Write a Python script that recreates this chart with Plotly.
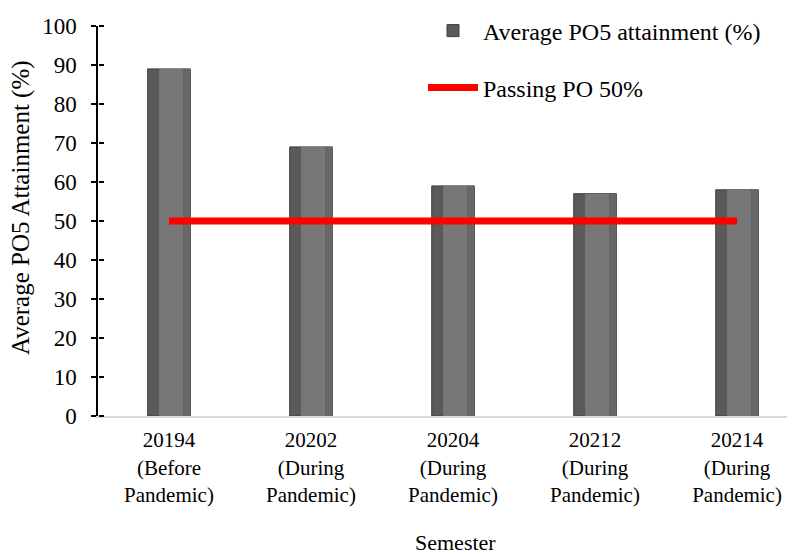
import plotly.graph_objects as go

categories = ["20194<br>(Before<br>Pandemic)", "20202<br>(During<br>Pandemic)",
              "20204<br>(During<br>Pandemic)", "20212<br>(During<br>Pandemic)",
              "20214<br>(During<br>Pandemic)"]
attainment = [89, 69, 59, 57, 58]
passing = [50, 50, 50, 50, 50]
yticks = [0, 10, 20, 30, 40, 50, 60, 70, 80, 90, 100]

FONT = "Liberation Serif, Times New Roman, serif"
xs = list(range(len(categories)))

# page has an 8px body margin; figure is sized to fit the 795x554 window
W, H = 787, 546
OFF = 8

fig = go.Figure()
fig.add_trace(go.Bar(
    x=xs, y=attainment, width=0.3, name="Average PO5 attainment (%)",
    marker=dict(color="#5a5a5a", line=dict(color="#3c3c3c", width=1)),
    legend="legend"))
fig.add_trace(go.Bar(
    x=xs, y=attainment, width=0.17, offset=-0.07, showlegend=False,
    marker=dict(color="#777777", line=dict(width=0)), hoverinfo="skip"))
fig.add_trace(go.Bar(
    x=xs, y=attainment, width=0.05, offset=0.1, showlegend=False,
    marker=dict(color="#676767", line=dict(width=0)), hoverinfo="skip"))
fig.add_trace(go.Scatter(
    x=xs, y=passing, mode="lines", name="Passing PO 50%",
    line=dict(color="#ff0000", width=7), legend="legend2"))
# invisible trace so the second y axis (inner half of the crossing ticks) is drawn
fig.add_trace(go.Scatter(x=xs, y=passing, yaxis="y2", mode="markers",
                         marker=dict(opacity=0), showlegend=False, hoverinfo="skip"))

fig.update_layout(
    width=W, height=H, barmode="overlay",
    margin=dict(l=98 - OFF, r=4, t=26 - OFF, b=138, autoexpand=False),
    paper_bgcolor="white", plot_bgcolor="white",
    font=dict(family=FONT, size=21, color="black"),
    xaxis=dict(range=[-0.5, 4.38], tickmode="array", tickvals=xs, ticktext=categories,
               showgrid=False, zeroline=False, showline=True, linecolor="#d9d9d9",
               linewidth=2, ticks="", tickfont=dict(size=21), automargin=False,
               ticklabelstandoff=4),
    yaxis=dict(range=[0, 100], tickvals=yticks, showgrid=False, zeroline=False,
               showline=True, linecolor="black", linewidth=1.5, ticks="outside",
               ticklen=5, tickwidth=1.5, tickcolor="black", tickfont=dict(size=23),
               ticklabelstandoff=10, automargin=False),
    yaxis2=dict(range=[0, 100], tickvals=yticks, overlaying="y", side="right",
                anchor="free", position=0,
                showticklabels=False, showgrid=False, zeroline=False, ticks="outside",
                ticklen=5, tickwidth=1.5, tickcolor="black", showline=False, automargin=False),
    legend=dict(x=(423 - OFF) / W, y=1 - (31 - OFF) / H, xref="container", yref="container",
                xanchor="left", yanchor="middle", bgcolor="rgba(0,0,0,0)",
                font=dict(size=24), itemwidth=50),
    legend2=dict(x=(423 - OFF) / W, y=1 - (88 - OFF) / H, xref="container", yref="container",
                 xanchor="left", yanchor="middle", bgcolor="rgba(0,0,0,0)",
                 font=dict(size=24), itemwidth=50),
    annotations=[
        dict(text="Average PO5 Attainment (%)", textangle=-90, showarrow=False,
             xref="paper", yref="paper", x=(21 - 98) / (791 - 98), y=(416 - 208) / 390,
             xanchor="center", yanchor="middle", font=dict(size=25)),
        dict(text="Semester", showarrow=False, xref="paper", yref="paper",
             x=(455 - 98) / (791 - 98), y=-(542 - 416) / 390,
             xanchor="center", yanchor="middle", font=dict(size=22)),
    ],
)

fig.write_html("out.html")
